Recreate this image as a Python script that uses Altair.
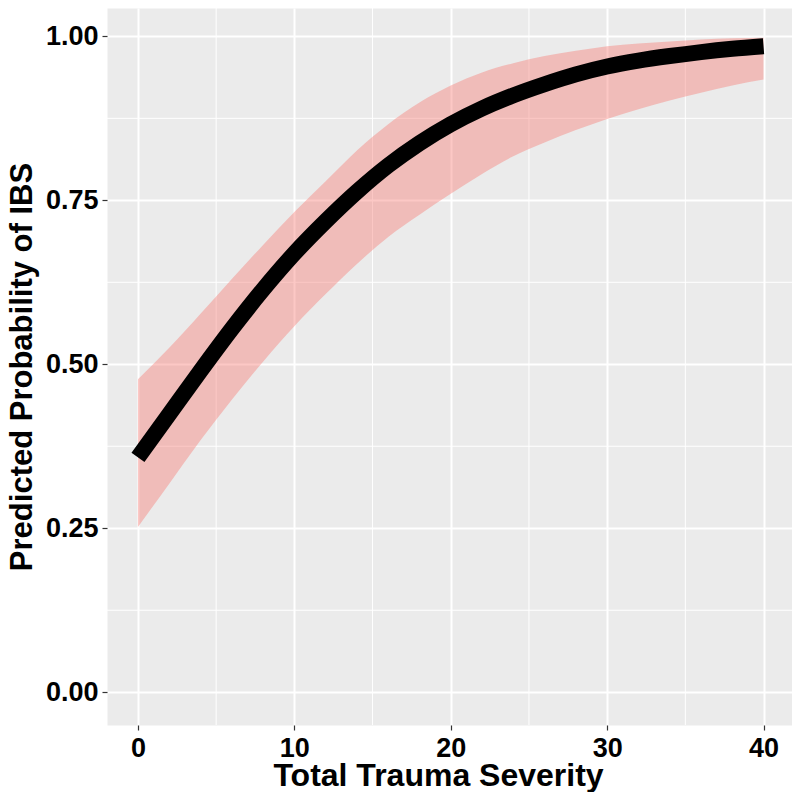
import altair as alt
import pandas as pd

severity = [0, 2, 4, 6, 8, 10, 12, 14, 16, 18, 20, 22, 24, 26, 28, 30, 32, 34, 36, 38, 40]
prob = [0.358, 0.424, 0.490, 0.554, 0.614, 0.669, 0.718, 0.763, 0.803, 0.837, 0.866, 0.890, 0.910, 0.927, 0.942, 0.954, 0.963, 0.970, 0.976, 0.981, 0.985]
upper = [0.477, 0.525, 0.577, 0.630, 0.682, 0.732, 0.779, 0.826, 0.866, 0.899, 0.925, 0.945, 0.959, 0.970, 0.978, 0.985, 0.989, 0.992, 0.995, 0.997, 0.998]
lower = [0.252, 0.318, 0.384, 0.446, 0.504, 0.558, 0.607, 0.653, 0.694, 0.728, 0.760, 0.790, 0.817, 0.838, 0.857, 0.874, 0.889, 0.902, 0.914, 0.925, 0.934]

x_ticks = [0, 10, 20, 30, 40]
y_ticks = [0.0, 0.25, 0.5, 0.75, 1.0]
x_minor = [5, 15, 25, 35]
y_minor = [0.125, 0.375, 0.625, 0.875]

x_title = "Total Trauma Severity"
y_title = "Predicted Probability of IBS"

df = pd.DataFrame({"x": severity, "p": prob, "hi": upper, "lo": lower})
df_xminor = pd.DataFrame({"x": x_minor})
df_yminor = pd.DataFrame({"p": y_minor})

FONT = "Liberation Sans"

xscale = alt.Scale(domain=[-1.98, 41.82], nice=False, zero=False)
yscale = alt.Scale(domain=[-0.05, 1.0432], nice=False, zero=False)

xaxis = alt.Axis(values=x_ticks, format="d", title=x_title,
                 titleBaseline="alphabetic", titleY=60, titleX=331,
                 titleAlign="center", titleFontSize=32,
                 labelBaseline="top", labelPadding=5)
yaxis = alt.Axis(values=y_ticks, format=".2f", title=y_title,
                 titleBaseline="alphabetic", titleX=-76, titleFontSize=31,
                 labelPadding=4)


def X(field):
    return alt.X(f"{field}:Q", scale=xscale, axis=xaxis, title=x_title)


def Y(field):
    return alt.Y(f"{field}:Q", scale=yscale, axis=yaxis, title=y_title)


band = alt.Chart(df).mark_area(color="#F8766D", opacity=0.4,
                               interpolate="monotone").encode(
    x=X("x"), y=Y("lo"), y2="hi"
)

vminor = alt.Chart(df_xminor).mark_rule(color="white", strokeWidth=1).encode(x=X("x"))
hminor = alt.Chart(df_yminor).mark_rule(color="white", strokeWidth=1).encode(y=Y("p"))

line = alt.Chart(df).mark_line(color="black", strokeWidth=16, strokeCap="butt",
                               interpolate="monotone").encode(
    x=X("x"), y=Y("p")
)

chart = alt.layer(vminor, hminor, band, line).properties(
    width=685, height=717,
    autosize=alt.AutoSizeParams(type="none"),
    padding={"left": 99, "top": 0, "right": 0, "bottom": 67},
).configure_view(
    fill="#EBEBEB", stroke="transparent"
).configure_axis(
    grid=True, gridColor="white", gridWidth=2,
    domain=False,
    tickColor="#333333", tickSize=5, tickWidth=1.2,
    labelFont=FONT, labelFontSize=27, labelFontWeight="bold", labelColor="black",
    titleFont=FONT, titleFontWeight="bold", titleColor="black",
)

chart.save("out.html", embed_options={"renderer": "svg", "actions": False})
